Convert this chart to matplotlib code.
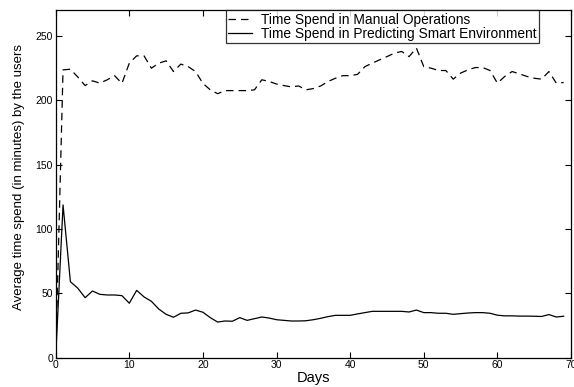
import matplotlib
matplotlib.use("Agg")
import matplotlib.pyplot as plt

plt.rcParams['font.family'] = ['Liberation Sans', 'DejaVu Sans']

days = list(range(0, 70))
manual = [0, 223.5, 224, 218, 211.3, 215, 213.2, 215.8, 219, 213,
          228.7, 234.4, 234.4, 224.8, 228.7, 230.5, 222.2, 228, 226, 222.2,
          213, 208, 205, 207.4, 207.4, 207.4, 207.4, 208, 215.8, 214.5,
          212.5, 211.3, 210.3, 211, 208, 209, 211, 214.5, 217, 219,
          219, 220, 226, 228.7, 231.3, 233.8, 236.5, 237.8, 233.8, 240.4,
          226, 224.8, 223, 223, 216.3, 221, 223.5, 225.3, 225.3, 223,
          213.2, 218.4, 222.2, 220.4, 218.4, 217, 216.3, 222.2, 213.2, 213.7]
smart = [0, 118.6, 59, 54, 46.6, 51.8, 49.2, 48.7, 48.7, 48.2,
         42.3, 52.3, 47.2, 43.8, 37.8, 33.7, 31.4, 34.5, 34.8, 37,
         35.3, 31.1, 27.7, 28.5, 28.3, 31.1, 29, 30.3, 31.6, 30.8,
         29.5, 29, 28.5, 28.5, 28.7, 29.5, 30.6, 31.9, 32.9, 32.9,
         32.9, 34, 35, 36, 36, 36, 36, 36, 35.5, 37,
         35, 35, 34.5, 34.5, 33.7, 34.2, 34.7, 35, 35, 34.5,
         33, 32.5, 32.5, 32.3, 32.3, 32.2, 32, 33.5, 31.6, 32.2]

labels = ["Time Spend in Manual Operations",
          "Time Spend in Predicting Smart Environment"]
xticks = [0, 10, 20, 30, 40, 50, 60, 70]
yticks = [0, 50, 100, 150, 200, 250]

fig = plt.figure(figsize=(5.74, 3.87), dpi=100)
ax = fig.add_axes([0.097, 0.0757, 0.8978, 0.8985])
ax.plot(days, manual, color='black', lw=0.9, dashes=(6, 4), label=labels[0])
ax.plot(days, smart, color='black', lw=0.9, label=labels[1])
ax.set_xlim(0, 70)
ax.set_ylim(0, 270)
ax.set_xticks(xticks)
ax.set_yticks(yticks)
ax.tick_params(direction='in', top=True, right=True, labelsize=7.5, length=4, width=0.8, pad=2)
for s in ax.spines.values():
    s.set_linewidth(0.9)
ax.set_xlabel("Days", fontsize=10.5, labelpad=0.5)
ax.set_ylabel("Average time spend (in minutes) by the users", fontsize=9.5)
ax.yaxis.set_label_coords(-0.06, 0.52)
leg = ax.legend(loc='upper right', bbox_to_anchor=(0.938, 1.0), fontsize=9.9,
                frameon=True, fancybox=False, edgecolor='black', borderpad=0.2,
                labelspacing=0.0, handlelength=1.7, handletextpad=0.65, borderaxespad=0)
leg.get_frame().set_linewidth(0.9)
fig.savefig("out.png", dpi=100)
